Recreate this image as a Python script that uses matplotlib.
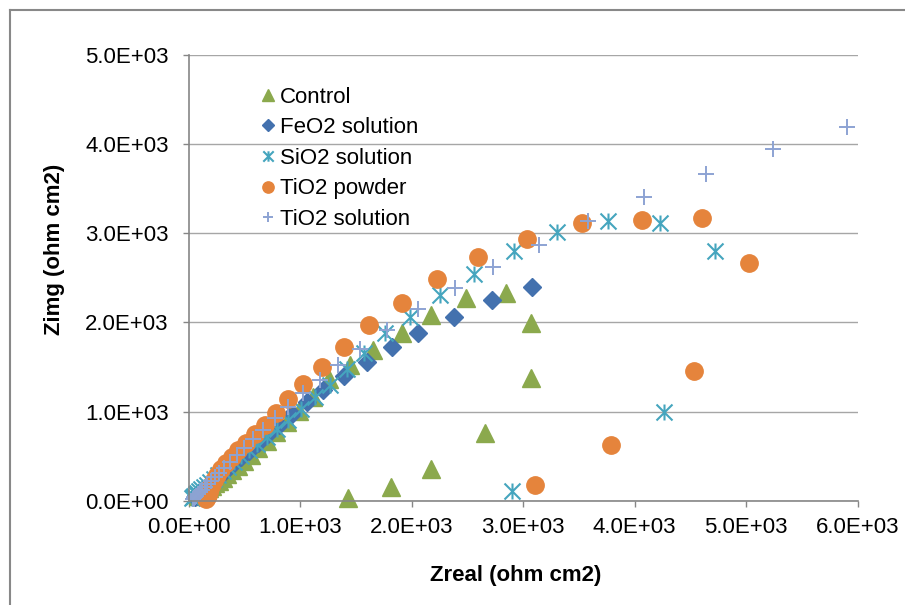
import matplotlib
matplotlib.use("Agg")
import matplotlib.pyplot as plt
from matplotlib.path import Path
from matplotlib.lines import Line2D

plt.rcParams['font.family'] = ['Liberation Sans', 'DejaVu Sans']

# --- data (Zreal, Zimg in ohm cm2) ---
control_x = [84, 96, 110, 126, 143, 163, 185, 210, 238, 270, 305, 345, 390, 440, 495, 555,
             625, 700, 785, 880, 990, 1118, 1261, 1447, 1656, 1910, 2173, 2487, 2846, 3070,
             3070, 2657, 2173, 1816, 1430]
control_y = [52, 64, 77, 92, 108, 127, 148, 172, 198, 228, 262, 300, 345, 395, 452, 518,
             592, 675, 770, 880, 1010, 1168, 1363, 1523, 1691, 1878, 2083, 2270, 2333, 1990,
             1374, 765, 355, 157, 34]

feo2_x = [53, 63, 75, 89, 105, 123, 144, 168, 196, 228, 264, 306, 354, 408, 470, 540, 620,
          710, 810, 924, 1058, 1207, 1393, 1596, 1821, 2060, 2382, 2717, 3082]
feo2_y = [48, 59, 72, 87, 104, 124, 146, 172, 202, 236, 274, 318, 368, 425, 490, 565, 650,
          745, 850, 974, 1112, 1243, 1400, 1560, 1721, 1885, 2057, 2251, 2400]

sio2_x = [32, 40, 50, 62, 76, 92, 112, 134, 160, 190, 224, 262, 305, 355, 410, 470, 540, 615,
          700, 790, 893, 1010, 1130, 1270, 1422, 1575, 1761, 1988, 2251, 2556, 2920, 3300,
          3758, 4224, 4717, 4266, 2897]
sio2_y = [38, 48, 60, 74, 90, 108, 130, 154, 182, 213, 248, 288, 332, 382, 438, 500, 568, 642,
          722, 810, 907, 1030, 1160, 1300, 1475, 1654, 1878, 2057, 2307, 2542, 2803, 3009,
          3136, 3110, 2803, 1000, 115]

powder_x = [156, 162, 170, 180, 192, 208, 230, 258, 292, 335, 385, 445, 515, 595, 684, 783,
            893, 1028, 1193, 1393, 1620, 1910, 2224, 2597, 3031, 3530, 4068, 4606, 5028,
            4534, 3787, 3103]
powder_y = [25, 45, 72, 105, 145, 190, 240, 295, 355, 420, 490, 570, 655, 750, 851, 989,
            1139, 1310, 1504, 1721, 1971, 2221, 2489, 2729, 2931, 3116, 3143, 3166, 2665,
            1459, 624, 179]

tio2sol_x = [35, 44, 55, 68, 83, 100, 120, 142, 168, 198, 233, 272, 318, 370, 430, 500, 580,
             670, 774, 893, 1028, 1178, 1342, 1536, 1776, 2055, 2388, 2732, 3145, 3584, 4081,
             4637, 5243, 5901]
tio2sol_y = [23, 33, 45, 60, 77, 98, 123, 152, 186, 225, 268, 318, 375, 440, 510, 595, 690,
             800, 926, 1056, 1206, 1355, 1523, 1699, 1915, 2145, 2382, 2624, 2867, 3136, 3401,
             3662, 3938, 4191]

# excel-like "star" marker: X plus vertical bar
star = Path([(0, -1), (0, 1), (-1, -1), (1, 1), (-1, 1), (1, -1)],
            [Path.MOVETO, Path.LINETO] * 3)

fig = plt.figure(figsize=(9.05, 6.05), dpi=100)
ax = fig.add_axes([0.2085, 0.1719, 0.7393, 0.738])

ax.plot(control_x, control_y, ls='none', marker='^', ms=12.5, color='#8BA94D',
        mec='#8BA94D', label='Control', clip_on=False)
ax.plot(feo2_x, feo2_y, ls='none', marker='D', ms=8.8, color='#4371AE',
        mec='#4371AE', label='FeO2 solution', clip_on=False)
ax.plot(sio2_x, sio2_y, ls='none', marker=star, ms=11.5, mfc='none', mec='#45A5BE',
        mew=1.5, label='SiO2 solution', clip_on=False)
ax.plot(powder_x, powder_y, ls='none', marker='o', ms=12.5, color='#E5843C',
        mec='#E5843C', label='TiO2 powder', clip_on=False)
ax.plot(tio2sol_x, tio2sol_y, ls='none', marker='+', ms=11.5, mec='#8DA3D3',
        mew=1.4, label='TiO2 solution', clip_on=False)

ax.set_xlim(0, 6000)
ax.set_ylim(0, 5000)
ax.set_xticks(range(0, 6001, 1000))
ax.set_yticks(range(0, 5001, 1000))
ax.set_xticklabels([f"{v:.1E}" for v in range(0, 6001, 1000)])
ax.set_yticklabels([f"{v:.1E}" for v in range(0, 5001, 1000)])
ax.tick_params(labelsize=16, colors='#868686', labelcolor='black', length=4.5,
               width=1)
ax.tick_params(axis='y', pad=10)
ax.tick_params(axis='x', pad=7)

ax.yaxis.grid(True, color='#A6A6A6', lw=1)
ax.set_axisbelow(True)
for s in ['top', 'right']:
    ax.spines[s].set_visible(False)
for s in ['left', 'bottom']:
    ax.spines[s].set_color('#868686')
    ax.spines[s].set_linewidth(1.2)

ax.set_xlabel('Zreal (ohm cm2)', fontsize=16, fontweight='bold')
ax.set_ylabel('Zimg (ohm cm2)', fontsize=16, fontweight='bold')
ax.xaxis.set_label_coords(0.488, -0.143)
ax.yaxis.set_label_coords(-0.185, 0.564)

ax.legend(loc='upper left', bbox_to_anchor=(0.096, 0.948), frameon=False,
          fontsize=16, markerscale=0.65, handlelength=0.6, handletextpad=0.2,
          labelspacing=0.43, borderaxespad=0)

# chart frame (only top/left edges visible in the original crop)
fig.add_artist(Line2D([10 / 905, 10 / 905], [0, 1 - 10 / 605], transform=fig.transFigure,
                      color='#888888', lw=1.5))
fig.add_artist(Line2D([10 / 905, 1], [1 - 10 / 605, 1 - 10 / 605], transform=fig.transFigure,
                      color='#888888', lw=1.5))

plt.savefig("out.png", dpi=100)
